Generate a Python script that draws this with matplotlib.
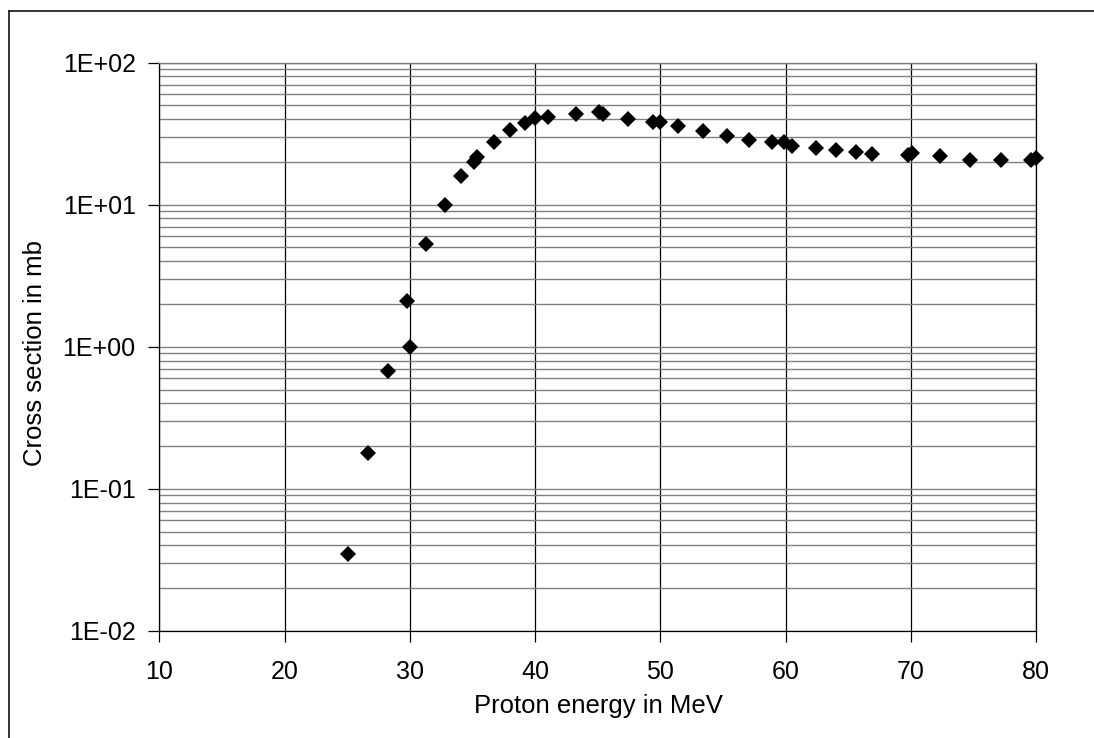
import matplotlib
matplotlib.use("Agg")
import matplotlib.pyplot as plt
from matplotlib.ticker import FixedLocator, FuncFormatter, NullFormatter, LogLocator
from matplotlib.lines import Line2D

# Data
energy_mev = [25.1, 26.7, 28.3, 29.8, 30.0, 31.3, 32.8, 34.1, 35.1, 35.4,
              36.7, 38.0, 39.2, 40.0, 41.0, 43.3, 45.1, 45.4, 47.4, 49.4,
              50.0, 51.4, 53.4, 55.3, 57.1, 58.9, 59.9, 60.5, 62.4, 64.0,
              65.6, 66.9, 69.8, 70.1, 72.3, 74.7, 77.2, 79.6, 80.0]
cross_section_mb = [0.035, 0.18, 0.68, 2.1, 1.0, 5.3, 10.0, 15.8, 20.0, 21.7,
                    27.5, 33.6, 37.3, 40.5, 41.5, 43.6, 44.9, 43.6, 40.3, 38.0,
                    38.0, 35.6, 33.2, 30.4, 28.3, 27.6, 27.6, 25.9, 24.9, 24.1,
                    23.5, 22.6, 22.3, 23.2, 22.0, 20.6, 20.7, 20.6, 21.2]
x_ticks = [10, 20, 30, 40, 50, 60, 70, 80]
y_ticks = [1e-2, 1e-1, 1e0, 1e1, 1e2]
y_tick_labels = ["1E-02", "1E-01", "1E+00", "1E+01", "1E+02"]

plt.rcParams['font.family'] = ['Liberation Sans', 'DejaVu Sans']

W, H = 1094, 738
fig = plt.figure(figsize=(W / 100, H / 100), dpi=100)
fig.patch.set_facecolor('white')

left, right, top, bottom = 159.3, 1036.0, 62.5, 631.0
ax = fig.add_axes([left / W, 1 - bottom / H, (right - left) / W, (bottom - top) / H])

ax.set_yscale('log')
ax.set_xlim(10, 80)
ax.set_ylim(1e-2, 1e2)

# gridlines
ax.yaxis.set_major_locator(FixedLocator(y_ticks))
ax.yaxis.set_minor_locator(LogLocator(base=10, subs=range(2, 10)))
ax.yaxis.set_minor_formatter(NullFormatter())
ax.yaxis.set_major_formatter(FuncFormatter(lambda v, p: y_tick_labels[y_ticks.index(v)] if v in y_ticks else ""))
ax.xaxis.set_major_locator(FixedLocator(x_ticks))

ax.grid(True, which='major', axis='x', color='black', lw=0.9)
ax.grid(True, which='both', axis='y', color='#808080', lw=1.0)
ax.set_axisbelow(True)

ax.tick_params(axis='both', which='major', direction='out', length=8, width=0.9,
               color='black', labelsize=18)
ax.tick_params(axis='x', pad=13)
ax.tick_params(axis='y', pad=9)
ax.tick_params(axis='y', which='minor', length=0)

for s in ['left', 'bottom', 'right']:
    ax.spines[s].set_color('black')
    ax.spines[s].set_linewidth(0.9)
ax.spines['top'].set_color('#808080')
ax.spines['top'].set_linewidth(1.0)

ax.plot(energy_mev, cross_section_mb, linestyle='none', marker='D',
        markersize=7.8, color='black', markeredgewidth=0, zorder=5, clip_on=False)

fig.text(35 / W, 1 - 353 / H, "Cross section in mb", rotation=90,
         ha='center', va='center', fontsize=18.5)
fig.text(598 / W, 1 - 706 / H, "Proton energy in MeV",
         ha='center', va='center', fontsize=18.5)

# outer chart frame (left and top edges visible)
fig.add_artist(Line2D([8.5 / W, 8.5 / W], [0, 1 - 10.5 / H], transform=fig.transFigure,
                      color='#222222', lw=1.3))
fig.add_artist(Line2D([8.5 / W, 1], [1 - 10.5 / H, 1 - 10.5 / H], transform=fig.transFigure,
                      color='#222222', lw=1.3))

fig.savefig("out.png", dpi=100, facecolor='white')
